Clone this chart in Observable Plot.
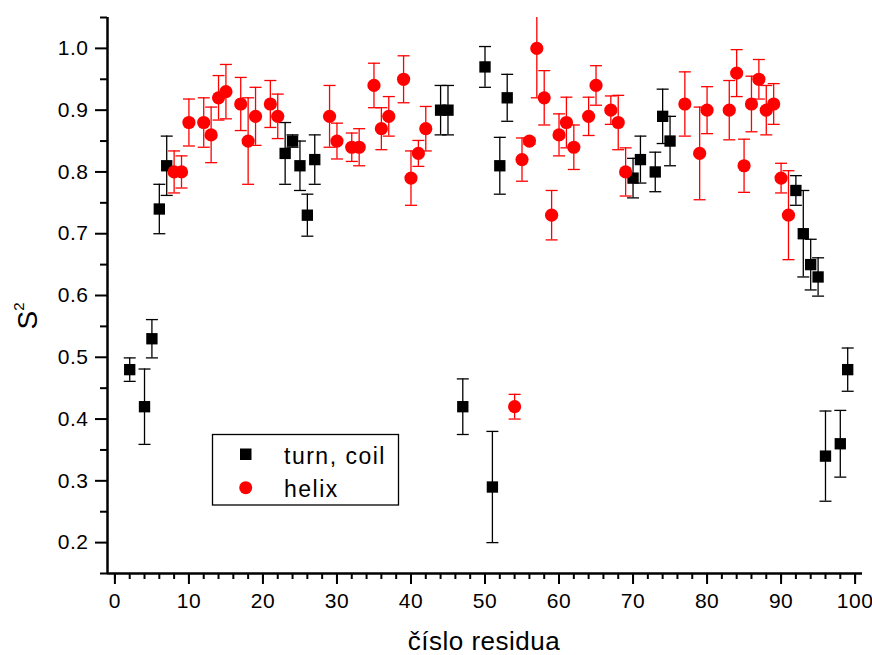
<!DOCTYPE html>
<html><head><meta charset="utf-8">
<script src="https://cdn.jsdelivr.net/npm/d3@7"></script>
<script src="https://cdn.jsdelivr.net/npm/@observablehq/plot@0.6"></script>
<style>
body{margin:0;background:#fff}
#chart g[aria-label$="tick label"]{font-size:21px !important}
#chart g[aria-label$="tick label"] text{letter-spacing:0.5px}
</style>
</head><body><div id="chart"></div>
<script>
// turn, coil (black squares)
const coilX = [2,4,5,6,7,23,24,25,26,27,44,45,47,50,51,52,53,70,71,73,74,75,92,93,94,95,96,98,99];
const coilY = [0.48,0.42,0.53,0.74,0.81,0.83,0.85,0.81,0.73,0.82,0.90,0.90,0.42,0.97,0.29,0.81,0.92,0.79,0.82,0.80,0.89,0.85,0.77,0.70,0.65,0.63,0.34,0.36,0.48];
const coilErr = [0.019,0.061,0.031,0.04,0.048,0.05,0.01,0.04,0.034,0.04,0.04,0.04,0.045,0.033,0.09,0.046,0.038,0.032,0.038,0.032,0.044,0.04,0.024,0.07,0.041,0.031,0.073,0.054,0.035];
// helix (red circles)
const helixX = [8,9,10,12,13,14,15,17,18,19,21,22,29,30,32,33,35,36,37,39,40,41,42,54,55,56,57,58,59,60,61,62,64,65,67,68,69,77,79,80,83,84,85,86,87,88,89,90,91];
const helixY = [0.80,0.80,0.88,0.88,0.86,0.92,0.93,0.91,0.85,0.89,0.91,0.89,0.89,0.85,0.84,0.84,0.94,0.87,0.89,0.95,0.79,0.83,0.87,0.42,0.82,0.85,1.00,0.92,0.73,0.86,0.88,0.84,0.89,0.94,0.90,0.88,0.80,0.91,0.83,0.90,0.90,0.96,0.81,0.91,0.95,0.90,0.91,0.79,0.73];
const helixErr = [0.034,0.026,0.038,0.04,0.045,0.036,0.044,0.043,0.07,0.047,0.038,0.036,0.05,0.029,0.023,0.03,0.036,0.034,0.032,0.038,0.044,0.021,0.036,0.02,0.035,0.005,0.08,0.044,0.04,0.034,0.041,0.036,0.031,0.032,0.023,0.044,0.039,0.052,0.075,0.038,0.048,0.038,0.043,0.045,0.032,0.04,0.033,0.024,0.072];

const xMajor = [0,10,20,30,40,50,60,70,80,90,100];
const xMinor = d3.range(0, 101, 2);
const yMajor = [0.2,0.3,0.4,0.5,0.6,0.7,0.8,0.9,1.0];
const yMinor = [0.15,0.25,0.35,0.45,0.55,0.65,0.75,0.85,0.95,1.05];
const seriesNames = ["turn, coil", "helix"];
const xLabel = "číslo residua";

const coil = coilX.map((x, i) => ({x, y: coilY[i], lo: coilY[i] - coilErr[i], hi: coilY[i] + coilErr[i]}));
const helix = helixX.map((x, i) => ({x, y: helixY[i], lo: helixY[i] - helixErr[i], hi: helixY[i] + helixErr[i]}));

const cap = {draw(ctx, size) { const r = Math.sqrt(size / Math.PI); ctx.moveTo(-r, 0); ctx.lineTo(r, 0); }};

function errMarks(data, color) {
  return [
    Plot.ruleX(data, {x: "x", y1: "lo", y2: "hi", stroke: color, strokeWidth: 1.3, clip: true}),
    Plot.dot(data, {x: "x", y: "hi", symbol: cap, r: 6, stroke: color, fill: "none", strokeWidth: 1.3, clip: true}),
    Plot.dot(data, {x: "x", y: "lo", symbol: cap, r: 6, stroke: color, fill: "none", strokeWidth: 1.3, clip: true})
  ];
}

const svg = Plot.plot({
  width: 872, height: 655,
  marginLeft: 107, marginRight: 10, marginTop: 17, marginBottom: 82,
  x: {domain: [-1, 101]},
  y: {domain: [0.15, 1.05]},
  style: {fontFamily: "'Liberation Sans', Arial, sans-serif", fontSize: "21px", background: "white", color: "black"},
  marks: [
    Plot.axisX({ticks: xMinor, tickSize: 6, text: null, strokeWidth: 2, label: null}),
    Plot.axisX({ticks: xMajor, tickSize: 11, tickPadding: 9, strokeWidth: 2, label: null}),
    Plot.axisY({ticks: yMinor, tickSize: 7, text: null, strokeWidth: 2, label: null}),
    Plot.axisY({ticks: yMajor, tickSize: 12, tickPadding: 7, strokeWidth: 2, label: null, tickFormat: d3.format(".1f")}),
    Plot.ruleY([0.15], {strokeWidth: 2.5}),
    Plot.ruleX([-1], {strokeWidth: 2.5}),
    ...errMarks(coil, "black"),
    Plot.dot(coil, {x: "x", y: "y", symbol: "square", r: 6.4, fill: "black", stroke: "none"}),
    ...errMarks(helix, "#ff0000"),
    Plot.dot(helix, {x: "x", y: "y", symbol: "circle", r: 6.6, fill: "#ff0000", stroke: "none"})
  ]
});
document.getElementById("chart").appendChild(svg);

const s = d3.select(svg);
const ff = "'Liberation Sans', Arial, sans-serif";
// x label
s.append("text").attr("x", 484).attr("y", 650).attr("text-anchor", "middle")
  .attr("font-family", ff).attr("font-size", 26).attr("letter-spacing", "0.5px").attr("fill", "black").text(xLabel);
// y label S^2
const yl = s.append("text").attr("transform", "translate(37,316) rotate(-90)").attr("text-anchor", "middle")
  .attr("font-family", ff).attr("font-size", 28).attr("fill", "black");
yl.append("tspan").text("S");
yl.append("tspan").attr("font-size", 15).attr("dy", -13).text("2");
// legend
const lg = s.append("g");
lg.append("rect").attr("x", 212.5).attr("y", 434.5).attr("width", 186).attr("height", 70.5)
  .attr("fill", "white").attr("stroke", "black").attr("stroke-width", 1.3);
lg.append("rect").attr("x", 240).attr("y", 448.5).attr("width", 11.5).attr("height", 11.5).attr("fill", "black");
lg.append("circle").attr("cx", 245.7).attr("cy", 487.7).attr("r", 6.5).attr("fill", "#ff0000");
lg.append("text").attr("x", 284).attr("y", 464).attr("text-anchor", "start").attr("font-family", ff).attr("font-size", 23)
  .attr("letter-spacing", "1.5px").attr("fill", "black").text(seriesNames[0]);
lg.append("text").attr("x", 284).attr("y", 497).attr("text-anchor", "start").attr("font-family", ff).attr("font-size", 23)
  .attr("letter-spacing", "1.5px").attr("fill", "black").text(seriesNames[1]);
</script>
</body></html>
